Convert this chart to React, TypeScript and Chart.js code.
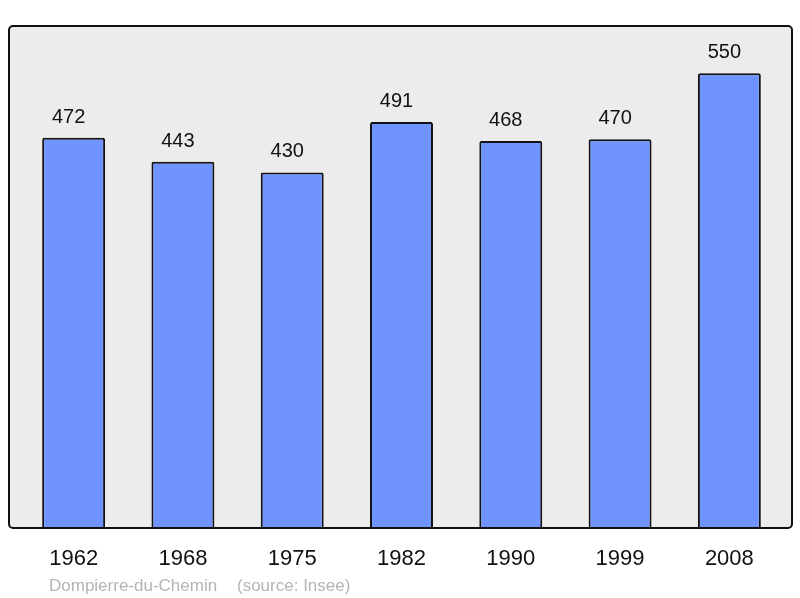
import React, { useEffect, useRef } from "react";
import { Chart, registerables } from "chart.js";

Chart.register(...registerables);

const years = ["1962", "1968", "1975", "1982", "1990", "1999", "2008"];
const population = [472, 443, 430, 491, 468, 470, 550];
const placeName = "Dompierre-du-Chemin";
const sourceText = "(source: Insee)";

const FONT = '"Liberation Sans", Arial, sans-serif';

const framePlugin = {
  id: "frame",
  beforeDatasetsDraw(chart: any) {
    const { ctx, chartArea } = chart;
    const l = chartArea.left - 10;
    const r = chartArea.right + 8;
    const t = chartArea.top;
    const b = chartArea.bottom;
    ctx.save();
    ctx.beginPath();
    ctx.roundRect(l, t, r - l, b - t, 4);
    ctx.fillStyle = "#ececec";
    ctx.fill();
    ctx.restore();
  },
  afterDatasetsDraw(chart: any) {
    const { ctx, chartArea } = chart;
    const l = chartArea.left - 10;
    const r = chartArea.right + 8;
    const t = chartArea.top;
    const b = chartArea.bottom;
    ctx.save();
    ctx.beginPath();
    ctx.roundRect(l, t, r - l, b - t, 4);
    ctx.lineWidth = 2;
    ctx.strokeStyle = "#111";
    ctx.stroke();

    const meta = chart.getDatasetMeta(0);
    const xScale = chart.scales.x;
    ctx.fillStyle = "#111";
    ctx.textAlign = "center";
    ctx.textBaseline = "alphabetic";
    ctx.font = `20px ${FONT}`;
    meta.data.forEach((bar: any, i: number) => {
      ctx.fillText(String(population[i]), bar.x - 5, bar.y - 15);
    });
    ctx.font = `22px ${FONT}`;
    years.forEach((y, i) => {
      ctx.fillText(y, xScale.getPixelForValue(i), b + 37);
    });
    ctx.fillStyle = "#b4b4b4";
    ctx.textAlign = "left";
    ctx.font = `17px ${FONT}`;
    ctx.fillText(placeName, l + 40, b + 63);
    ctx.fillText(sourceText, l + 228, b + 63);
    ctx.restore();
  },
};

export default function App() {
  const ref = useRef<HTMLCanvasElement>(null);
  useEffect(() => {
    document.body.style.margin = "0";
    const chart = new Chart(ref.current!, {
      type: "bar",
      data: {
        labels: years,
        datasets: [
          {
            data: population,
            backgroundColor: "#7094ff",
            borderColor: "#111",
            borderWidth: 2,
            borderRadius: 2,
            borderSkipped: "start",
            categoryPercentage: 1,
            barPercentage: 0.576,
          },
        ],
      },
      options: {
        responsive: false,
        animation: false,
        layout: { padding: { left: 19, right: 16, top: 26, bottom: 70 } },
        plugins: { legend: { display: false }, tooltip: { enabled: false } },
        scales: {
          x: { display: false, offset: true },
          y: { display: false, min: 0, max: 607 },
        },
      },
      plugins: [framePlugin],
    });
    return () => chart.destroy();
  }, []);
  return (
    <div style={{ position: "fixed", left: 0, top: 0, width: 800, height: 598, background: "#fff" }}>
      <canvas ref={ref} width={800} height={598} />
    </div>
  );
}
